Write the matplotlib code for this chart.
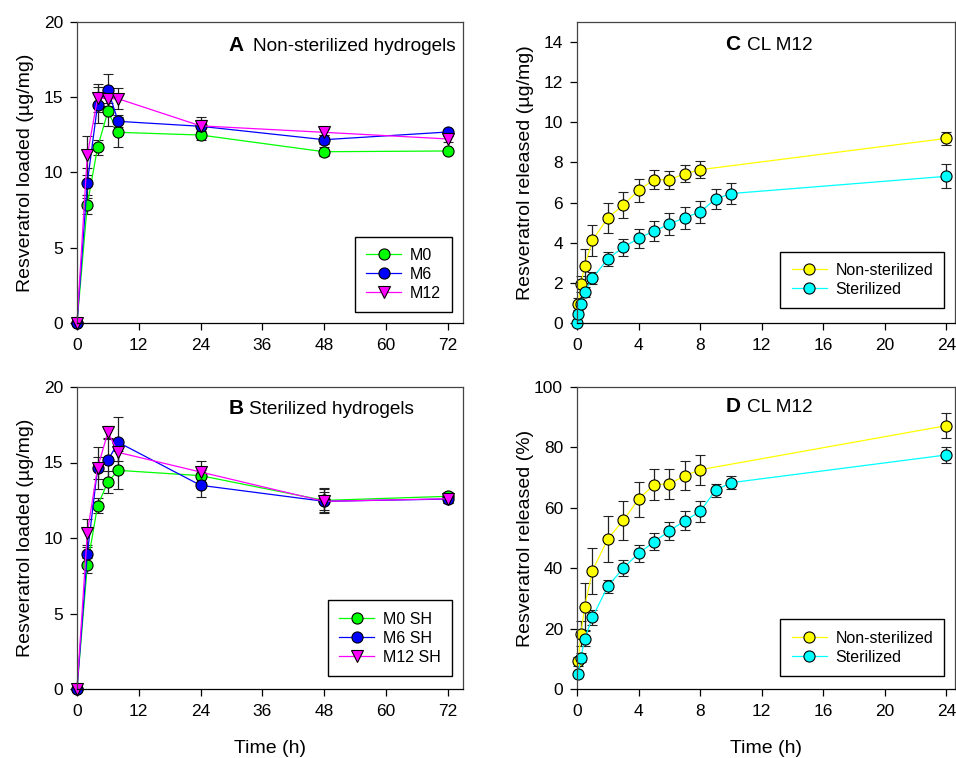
import numpy as np
import matplotlib
matplotlib.use("Agg")
import matplotlib.pyplot as plt

plt.rcParams["font.family"] = ["Liberation Sans", "DejaVu Sans"]

# loading kinetics (h)
t_load = [0, 2, 4, 6, 8, 24, 48, 72]

# A - non-sterilized hydrogels
m0 = [0, 7.86, 11.67, 14.06, 12.67, 12.49, 11.38, 11.43]
m0_err = [0, 0.63, 0.5, 0.95, 1.0, 0.3, 0.3, 0.15]
m6 = [0, 9.30, 14.51, 15.50, 13.40, 13.07, 12.18, 12.69]
m6_err = [0, 1.0, 1.2, 1.05, 0.4, 0.4, 0.3, 0.15]
m12 = [0, 11.14, 14.95, 14.90, 14.90, 13.10, 12.67, 12.23]
m12_err = [0, 1.3, 0.9, 0.3, 0.7, 0.6, 0.2, 0.2]

# B - sterilized hydrogels
m0_sh = [0, 8.19, 12.14, 13.71, 14.48, 14.13, 12.49, 12.76]
m0_sh_err = [0, 0.5, 0.5, 0.75, 1.25, 0.4, 0.8, 0.3]
m6_sh = [0, 8.92, 14.64, 15.14, 16.34, 13.49, 12.43, 12.58]
m6_sh_err = [0, 0.6, 0.7, 1.5, 1.7, 0.8, 0.8, 0.25]
m12_sh = [0, 10.33, 14.64, 17.00, 15.67, 14.37, 12.43, 12.60]
m12_sh_err = [0, 0.9, 1.4, 0.45, 0.6, 0.75, 0.6, 0.25]

# C / D - release of CL M12 (h)
t_ns = [0.083, 0.25, 0.5, 1, 2, 3, 4, 5, 6, 7, 8, 24]
t_st = [0, 0.083, 0.25, 0.5, 1, 2, 3, 4, 5, 6, 7, 8, 9, 10, 24]

rel_ns = [0.95, 1.92, 2.86, 4.12, 5.23, 5.88, 6.61, 7.14, 7.14, 7.44, 7.64, 9.20]
rel_ns_err = [0.3, 0.4, 0.85, 0.77, 0.76, 0.64, 0.56, 0.46, 0.44, 0.42, 0.42, 0.32]
rel_st = [0, 0.47, 0.96, 1.54, 2.23, 3.19, 3.77, 4.22, 4.58, 4.93, 5.25, 5.53, 6.18, 6.45, 7.31]
rel_st_err = [0, 0.05, 0.1, 0.25, 0.3, 0.33, 0.42, 0.47, 0.5, 0.54, 0.55, 0.57, 0.5, 0.52, 0.6]

pct_ns = [9.2, 18.3, 27.3, 39.1, 49.7, 55.8, 62.8, 67.7, 67.9, 70.6, 72.6, 87.2]
pct_ns_err = [1.5, 4.2, 7.7, 7.7, 7.5, 6.3, 5.9, 5.1, 4.9, 4.8, 4.9, 4.2]
pct_st = [5.1, 10.4, 16.6, 23.7, 34.0, 40.0, 44.9, 48.7, 52.4, 55.7, 58.8, 65.8, 68.3, 77.5]
pct_st_err = [0.5, 1.5, 2.5, 2.5, 2.2, 2.7, 2.9, 2.8, 2.9, 3.1, 3.4, 2.2, 2.1, 2.6]

W, H = 956, 758
fig = plt.figure(figsize=(W / 100, H / 100), dpi=100)


def px_axes(left, top, right, bottom):
    return fig.add_axes([left / W, (H - bottom) / H, (right - left) / W, (bottom - top) / H])


axA = px_axes(77, 22, 463, 323)
axB = px_axes(77, 387, 463, 689)
axC = px_axes(577, 22, 955, 323)
axD = px_axes(577, 387, 955, 689)


def series(ax, x, y, err, color, marker):
    eb = ax.errorbar(x, y, yerr=err, color=color, lw=0.9, marker=marker, ms=8,
                     mfc=color, mec="black", mew=0.8, ecolor="#222222",
                     elinewidth=0.9, capsize=3.5, capthick=0.9, clip_on=False)
    for art in eb.lines[1] + eb.lines[2]:
        art.set_clip_on(False)
    return eb[0]


def style(ax, xmax, xticks, ylim, yticks, ylabel, xlabel=None):
    ax.set_xlim(0, xmax)
    ax.set_xticks(xticks)
    ax.set_ylim(*ylim)
    ax.set_yticks(yticks)
    ax.tick_params(direction="out", length=5, width=0.9, labelsize=12.5, colors="black")
    ax.tick_params(axis="x", pad=6)
    ax.tick_params(axis="y", pad=5)
    ax.tick_params(top=False, right=False)
    for s in ["top", "right", "left"]:
        ax.spines[s].set_color("#444444")
        ax.spines[s].set_linewidth(0.9)
    ax.spines["bottom"].set_color("black")
    ax.spines["bottom"].set_linewidth(0.9)
    ax.set_ylabel(ylabel, fontsize=14)
    ax.yaxis.set_label_coords(-43 / ax.bbox.width, 0.5)
    if xlabel:
        ax.set_xlabel(xlabel, fontsize=14)
        ax.xaxis.set_label_coords(0.5, -0.17)


def panel_title(ax, letter, text, y, x_text):
    ax.text(0.392, y, letter, transform=ax.transAxes, fontsize=15,
            fontweight="bold", ha="left", va="baseline")
    ax.text(x_text, y, text, transform=ax.transAxes, fontsize=13.7,
            ha="left", va="baseline")


def legend(ax, handles, labels, bottom):
    leg = ax.legend(handles, labels, loc="lower right", bbox_to_anchor=(0.972, bottom),
                    fontsize=11.5, frameon=True, fancybox=False, framealpha=1,
                    edgecolor="black", handlelength=2.2, handletextpad=0.55,
                    labelspacing=0.25, borderpad=0.7, borderaxespad=0)
    leg.get_frame().set_linewidth(1.0)


# A
hA = [series(axA, t_load, m0, m0_err, "#00ff00", "o"),
      series(axA, t_load, m6, m6_err, "#0000ff", "o"),
      series(axA, t_load, m12, m12_err, "#ff00ff", "v")]
style(axA, 75, np.arange(0, 73, 12), (0, 20), np.arange(0, 21, 5),
      "Resveratrol loaded (µg/mg)")
panel_title(axA, "A", "Non-sterilized hydrogels", 0.905, 0.457)
legend(axA, hA, ["M0", "M6", "M12"], 0.037)

# B
hB = [series(axB, t_load, m0_sh, m0_sh_err, "#00ff00", "o"),
      series(axB, t_load, m6_sh, m6_sh_err, "#0000ff", "o"),
      series(axB, t_load, m12_sh, m12_sh_err, "#ff00ff", "v")]
style(axB, 75, np.arange(0, 73, 12), (0, 20), np.arange(0, 21, 5),
      "Resveratrol loaded (µg/mg)", "Time (h)")
panel_title(axB, "B", "Sterilized hydrogels", 0.912, 0.446)
legend(axB, hB, ["M0 SH", "M6 SH", "M12 SH"], 0.044)

# C
hC = [series(axC, t_ns, rel_ns, rel_ns_err, "#ffff00", "o"),
      series(axC, t_st, rel_st, rel_st_err, "#00ffff", "o")]
style(axC, 24.56, np.arange(0, 25, 4), (0, 15), np.arange(0, 15, 2),
      "Resveratrol released (µg/mg)")
panel_title(axC, "C", "CL M12", 0.908, 0.45)
legend(axC, hC, ["Non-sterilized", "Sterilized"], 0.05)

# D
hD = [series(axD, t_ns, pct_ns, pct_ns_err, "#ffff00", "o"),
      series(axD, t_st[1:], pct_st, pct_st_err, "#00ffff", "o")]
style(axD, 24.56, np.arange(0, 25, 4), (0, 100), np.arange(0, 101, 20),
      "Resveratrol released (%)", "Time (h)")
panel_title(axD, "D", "CL M12", 0.916, 0.45)
legend(axD, hD, ["Non-sterilized", "Sterilized"], 0.044)

fig.savefig("out.png", dpi=100)
